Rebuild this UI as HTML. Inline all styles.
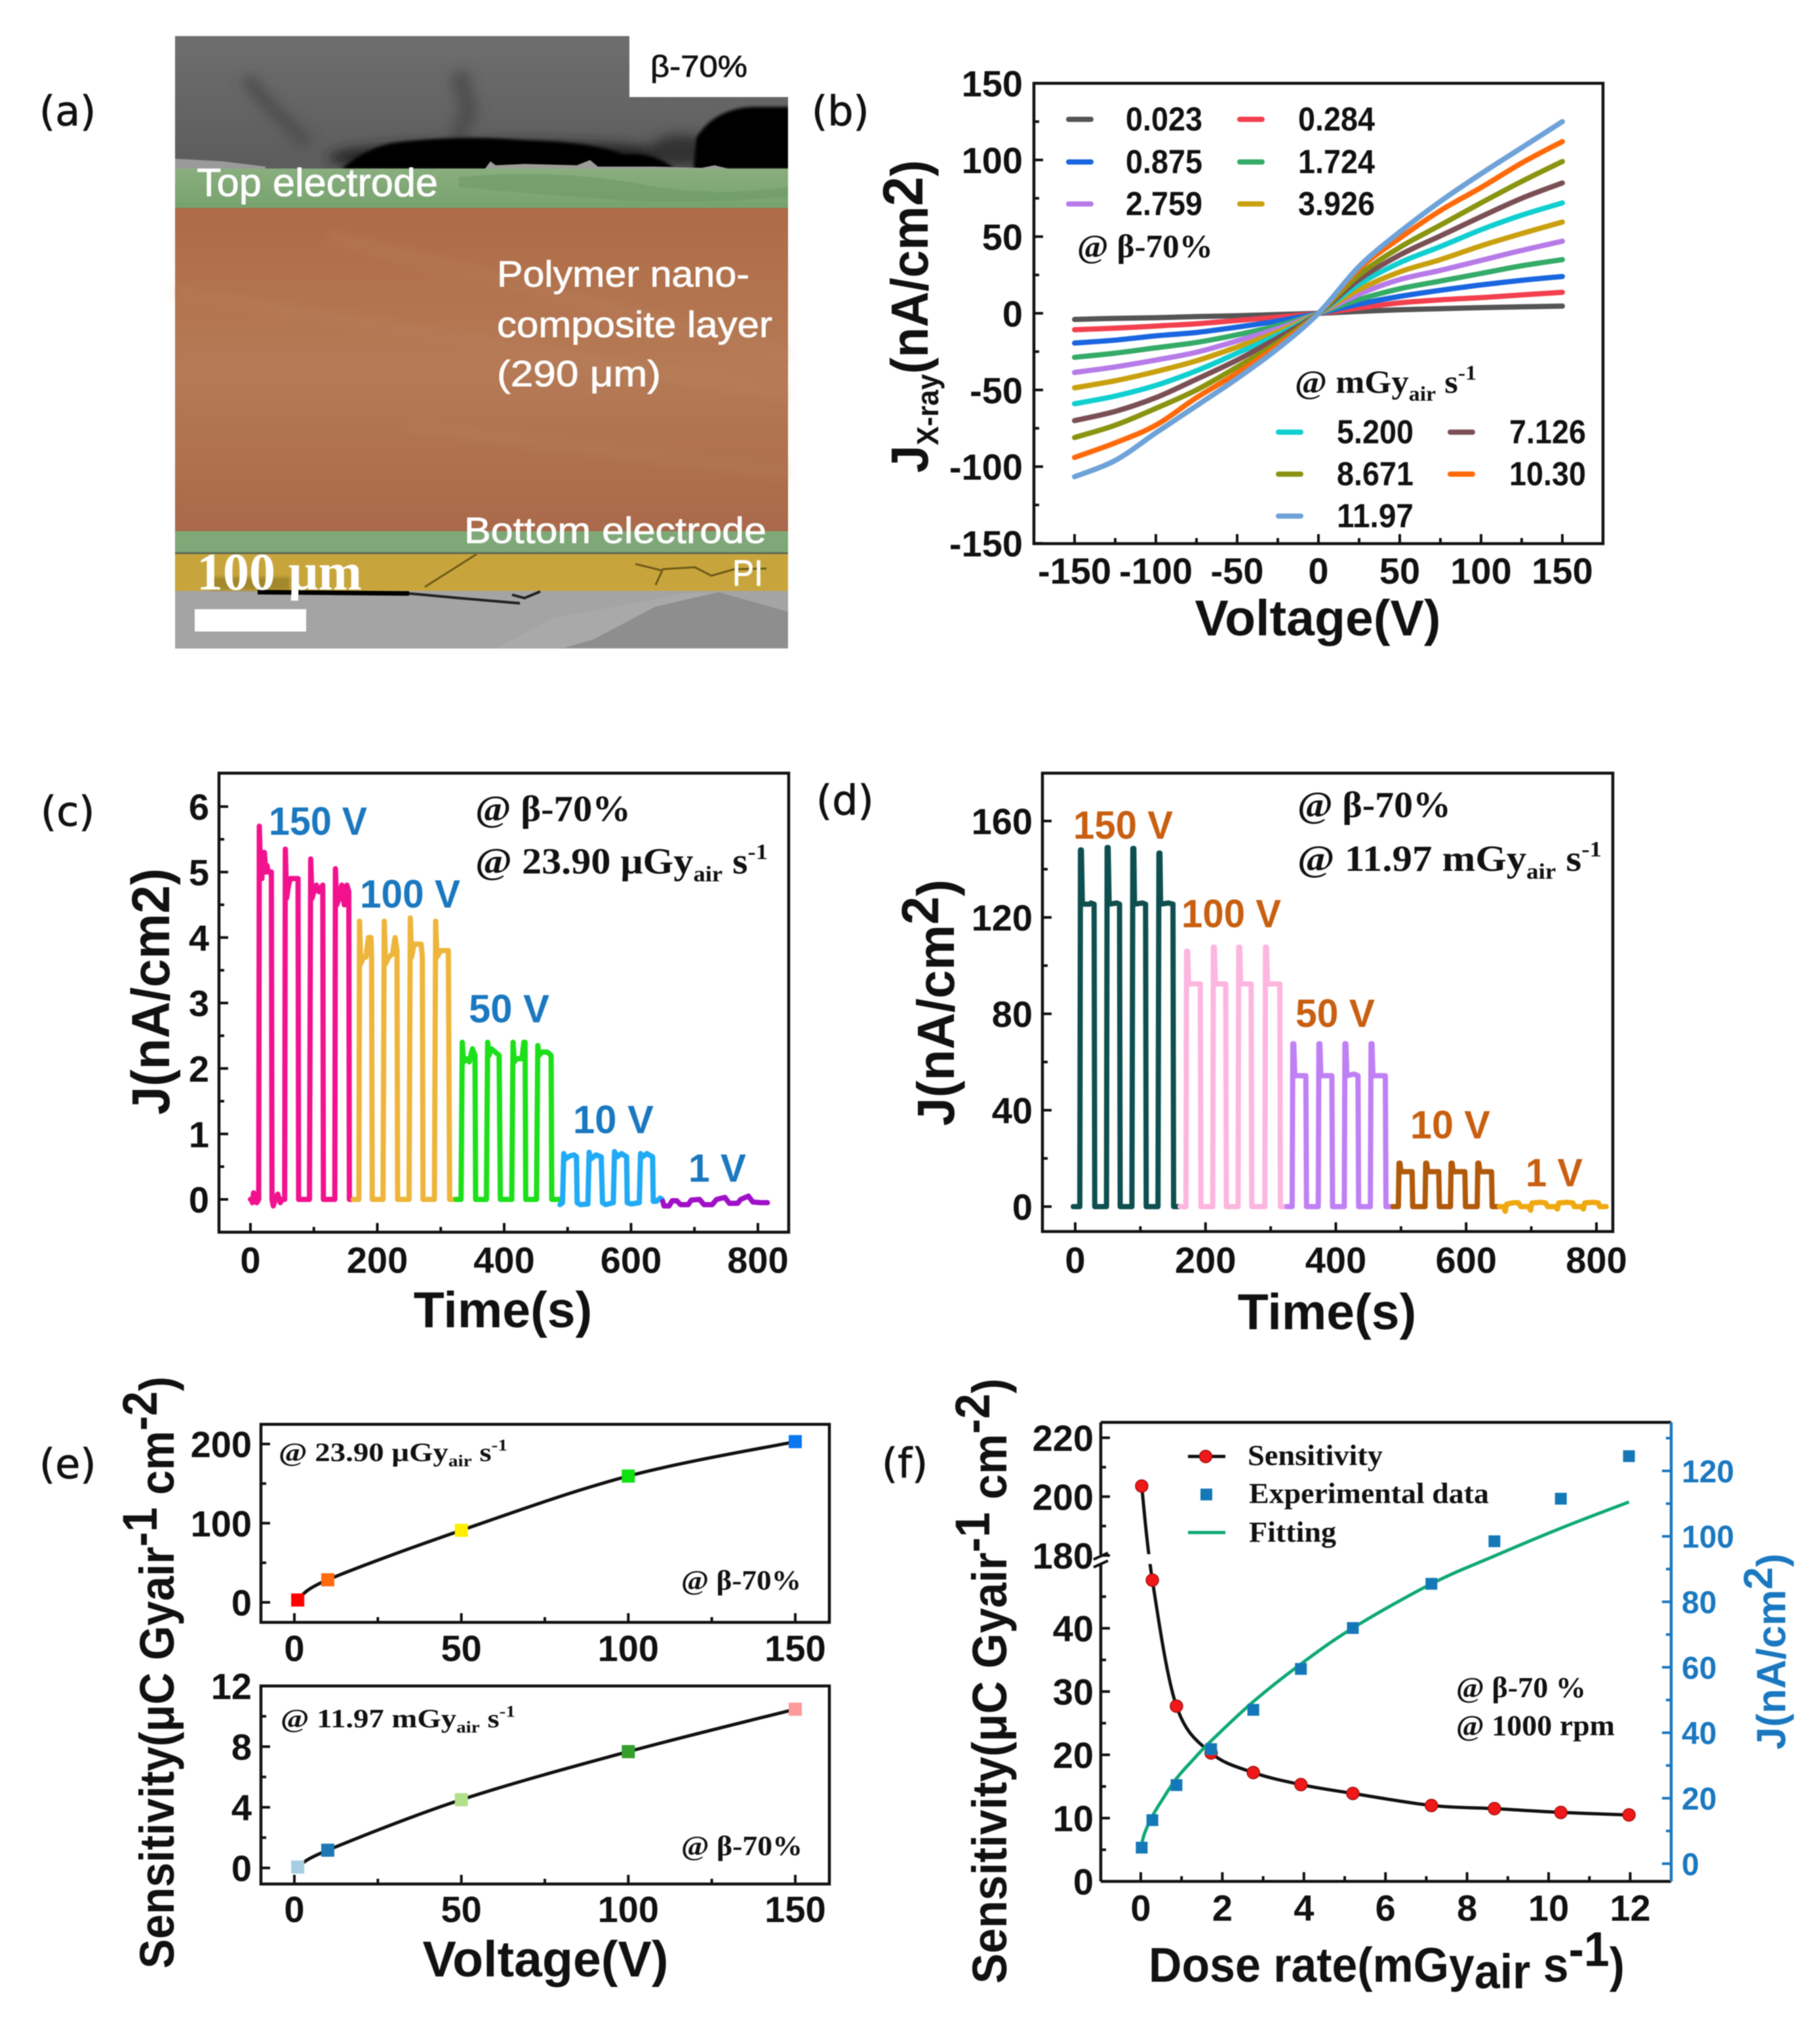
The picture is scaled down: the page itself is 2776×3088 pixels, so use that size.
<!DOCTYPE html>
<html lang="en">
<head>
<meta charset="utf-8">
<title>X-ray detector response figure</title>
<style>
html,body{margin:0;padding:0;background:#fff;}
svg{display:block;filter:blur(0.7px);}
text{font-family:"Liberation Sans",sans-serif;}
.serif{font-family:"Liberation Serif",serif;font-weight:bold;fill:#111;}
.title{font-family:"Liberation Sans",sans-serif;font-weight:bold;fill:#111;}
.tick{font-family:"Liberation Sans",sans-serif;font-weight:bold;fill:#111;}
.plabel{font-family:"DejaVu Sans",sans-serif;fill:#111;font-size:62px;stroke:#111;stroke-width:0.8px;}
.sem{font-family:"Liberation Sans",sans-serif;fill:#fff;stroke:#fff;stroke-width:0.8px;}
</style>
</head>
<body>
<svg id="figure" xmlns="http://www.w3.org/2000/svg" width="2776" height="3088" viewBox="0 0 2776 3088">
<defs>
<linearGradient id="topGrey" x1="0" y1="0" x2="0" y2="1"><stop offset="0" stop-color="#6e6e6e"/><stop offset="0.7" stop-color="#616161"/><stop offset="1" stop-color="#5c5c5c"/></linearGradient>
<linearGradient id="orangeFill" x1="0" y1="0" x2="0" y2="1"><stop offset="0" stop-color="#ad6b45"/><stop offset="0.5" stop-color="#b57a56"/><stop offset="1" stop-color="#a9694a"/></linearGradient>
<linearGradient id="greenFill" x1="0" y1="0" x2="0" y2="1"><stop offset="0" stop-color="#8aae7e"/><stop offset="1" stop-color="#76a26e"/></linearGradient>
<filter id="softA" x="-20%" y="-20%" width="140%" height="140%"><feGaussianBlur stdDeviation="9"/></filter>
<filter id="softB" x="-20%" y="-20%" width="140%" height="140%"><feGaussianBlur stdDeviation="2.5"/></filter>
</defs>

<!-- Panel (a) -->
<g>
<text class="plabel" x="60" y="191">(a)</text>
<rect x="267" y="55" width="935" height="934" fill="#a4a4a4"/>
<rect x="267" y="55" width="935" height="204" fill="url(#topGrey)"/>
<g filter="url(#softA)">
<path d="M375 120 L420 170 L470 220" stroke="#505050" stroke-width="22" fill="none"/>
<path d="M700 110 L715 170 L690 230" stroke="#505050" stroke-width="28" fill="none"/>
<ellipse cx="780" cy="240" rx="280" ry="24" fill="#222"/>
<ellipse cx="1040" cy="230" rx="50" ry="24" fill="#333"/>
</g>
<g filter="url(#softB)">
<path d="M520 258 Q560 225 600 218 Q700 205 800 214 Q900 216 950 235 Q1000 232 1030 258 Z" fill="#000"/>
<path d="M1058 258 L1062 210 Q1090 165 1150 163 L1204 163 V258 Z" fill="#000"/>
</g>
<path d="M267 242 L340 246 L405 254 L405 258 L267 258 Z" fill="#9a9a9a"/>
<path d="M740 257 L748 246 L756 252 L800 250 L880 252 L900 244 L912 254 L1000 254 L1070 256 L1090 252 L1110 257 Z" fill="#9c9c98"/>
<rect x="960" y="40" width="260" height="108" fill="#fff"/>
<rect x="1202" y="140" width="30" height="125" fill="#fff"/>
<rect x="267" y="257" width="935" height="60" fill="url(#greenFill)"/>
<path d="M700 270 Q850 255 1000 285 Q1100 300 1202 285 L1202 300 Q1050 312 950 305 Q800 295 700 285 Z" fill="#6e9a66" opacity="0.6"/>
<rect x="267" y="317" width="935" height="493" fill="url(#orangeFill)"/>
<path d="M267 445 L1202 600 M500 360 L1202 540 M620 650 L1202 720" stroke="#c08a66" stroke-width="16" opacity="0.25" fill="none" filter="url(#softA)"/>
<rect x="267" y="810" width="935" height="34" fill="#7fa878"/>
<rect x="267" y="842" width="935" height="3" fill="#5f6a55"/>
<rect x="267" y="845" width="935" height="56" fill="#c8a53c"/>
<rect x="320" y="880" width="122" height="20" fill="#8a7420" opacity="0.6" filter="url(#softB)"/>
<path d="M727 845 L648 895 M969 860 L1010 870 L1000 892 M1010 868 L1060 865 L1085 878 L1120 868 L1169 867" stroke="#6e5a18" stroke-width="3" fill="none"/>
<polygon points="757,988 842,943 993,923 1096,903 1202,933 1202,988" fill="#8e8e8e"/>
<polygon points="842,943 993,915 1040,905 1096,903 1000,925 905,975 860,988 757,988" fill="#a9a9a9"/>
<path d="M393 903 L624 905" stroke="#000" stroke-width="7" fill="none"/>
<path d="M624 905 L700 912 L793 920 M781 907 L800 912 L824 902" stroke="#222" stroke-width="4" fill="none"/>
<rect x="297" y="929" width="170" height="34" fill="#fff"/>
<text class="sem" x="300" y="299" font-size="60" textLength="368" lengthAdjust="spacingAndGlyphs">Top electrode</text>
<text class="sem" x="758" y="437" font-size="56" textLength="385" lengthAdjust="spacingAndGlyphs">Polymer nano-</text>
<text class="sem" x="758" y="514" font-size="56" textLength="420" lengthAdjust="spacingAndGlyphs">composite layer</text>
<text class="sem" x="758" y="589" font-size="56" textLength="250" lengthAdjust="spacingAndGlyphs">(290 μm)</text>
<text class="sem" x="708" y="828" font-size="56" textLength="461" lengthAdjust="spacingAndGlyphs">Bottom electrode</text>
<text class="sem" x="1117" y="893" font-size="56" textLength="47" lengthAdjust="spacingAndGlyphs">PI</text>
<text class="serif" x="300" y="899" font-size="80" style="fill:#fff" textLength="252" lengthAdjust="spacingAndGlyphs">100 μm</text>
<text x="992" y="117" font-size="46" fill="#111" stroke="#111" stroke-width="0.8" textLength="148" lengthAdjust="spacingAndGlyphs">β-70%</text>
</g>

<!-- Panel (b) -->
<g id="panelB">
<text class="plabel" x="1238" y="191">(b)</text>
<g id="bCurves"></g>
<rect x="1577" y="127" width="868" height="702" fill="none" stroke="#111" stroke-width="4.5"/>
<g stroke-width="8" stroke-linecap="round">
<line x1="1630" x2="1664" y1="182" y2="182" stroke="#555555"/>
<line x1="1891" x2="1925" y1="182" y2="182" stroke="#f2404e"/>
<line x1="1630" x2="1664" y1="247" y2="247" stroke="#1a66e0"/>
<line x1="1891" x2="1925" y1="247" y2="247" stroke="#35ab68"/>
<line x1="1630" x2="1664" y1="311" y2="311" stroke="#b77be8"/>
<line x1="1891" x2="1925" y1="311" y2="311" stroke="#c9a00e"/>
<line x1="1950" x2="1984" y1="659" y2="659" stroke="#10cfd0"/>
<line x1="2212" x2="2246" y1="659" y2="659" stroke="#7a5055"/>
<line x1="1950" x2="1984" y1="723" y2="723" stroke="#8a9410"/>
<line x1="2212" x2="2246" y1="723" y2="723" stroke="#ff6a0a"/>
<line x1="1950" x2="1984" y1="787" y2="787" stroke="#6ea2d8"/>
</g>
<g class="serif" font-size="51">
<text x="1717" y="199" textLength="117" lengthAdjust="spacingAndGlyphs">0.023</text>
<text x="1980" y="199" textLength="117" lengthAdjust="spacingAndGlyphs">0.284</text>
<text x="1717" y="264" textLength="117" lengthAdjust="spacingAndGlyphs">0.875</text>
<text x="1980" y="264" textLength="117" lengthAdjust="spacingAndGlyphs">1.724</text>
<text x="1717" y="328" textLength="117" lengthAdjust="spacingAndGlyphs">2.759</text>
<text x="1980" y="328" textLength="117" lengthAdjust="spacingAndGlyphs">3.926</text>
<text x="2039" y="676" textLength="117" lengthAdjust="spacingAndGlyphs">5.200</text>
<text x="2302" y="676" textLength="117" lengthAdjust="spacingAndGlyphs">7.126</text>
<text x="2039" y="740" textLength="117" lengthAdjust="spacingAndGlyphs">8.671</text>
<text x="2302" y="740" textLength="117" lengthAdjust="spacingAndGlyphs">10.30</text>
<text x="2039" y="804" textLength="117" lengthAdjust="spacingAndGlyphs">11.97</text>
</g>
<text class="serif" x="1643" y="392" font-size="50" textLength="207" lengthAdjust="spacingAndGlyphs">@ β-70%</text>
<text class="serif" x="1975" y="599" font-size="50" textLength="277" lengthAdjust="spacingAndGlyphs">@ mGy<tspan font-size="32" dy="12">air</tspan><tspan dy="-12"> s</tspan><tspan font-size="32" dy="-20">-1</tspan></text>
<text class="title" transform="translate(1415,721) rotate(-90)" font-size="80" textLength="477" lengthAdjust="spacingAndGlyphs">J<tspan font-size="46" dy="16">X-ray</tspan><tspan dy="-16">(nA/cm</tspan><tspan font-size="86" dy="-8">2</tspan><tspan dy="8">)</tspan></text>
<text class="title" x="2010" y="969" font-size="77" text-anchor="middle">Voltage(V)</text>
</g>

<!-- Panel (c) -->
<g id="panelC">
<text class="plabel" x="62" y="1259">(c)</text>
<g id="cTrace"></g>
<rect x="334" y="1179" width="869" height="700" fill="none" stroke="#111" stroke-width="4.5"/>
<g class="serif" font-size="60" style="fill:#1a78c0">
<text x="410" y="1273" textLength="150" lengthAdjust="spacingAndGlyphs">150 V</text>
<text x="549" y="1384" textLength="153" lengthAdjust="spacingAndGlyphs">100 V</text>
<text x="715" y="1559" textLength="123" lengthAdjust="spacingAndGlyphs">50 V</text>
<text x="874" y="1728" textLength="123" lengthAdjust="spacingAndGlyphs">10 V</text>
<text x="1050" y="1802" textLength="88" lengthAdjust="spacingAndGlyphs">1 V</text>
</g>
<text class="serif" x="725" y="1252" font-size="56" textLength="237" lengthAdjust="spacingAndGlyphs">@ β-70%</text>
<text class="serif" x="725" y="1332" font-size="56" textLength="446" lengthAdjust="spacingAndGlyphs">@ 23.90 μGy<tspan font-size="34" dy="12">air</tspan><tspan dy="-12"> s</tspan><tspan font-size="34" dy="-22">-1</tspan></text>
<text class="title" transform="translate(258,1700) rotate(-90)" font-size="82" textLength="376" lengthAdjust="spacingAndGlyphs">J(nA/cm2)</text>
<text class="title" x="767" y="2024" font-size="77" text-anchor="middle">Time(s)</text>
</g>

<!-- Panel (d) -->
<g id="panelD">
<text class="plabel" x="1245" y="1242">(d)</text>
<g id="dTrace"></g>
<rect x="1590" y="1179" width="870" height="699" fill="none" stroke="#111" stroke-width="4.5"/>
<g class="serif" font-size="60" style="fill:#c85f10">
<text x="1637" y="1279" textLength="152" lengthAdjust="spacingAndGlyphs">150 V</text>
<text x="1802" y="1414" textLength="152" lengthAdjust="spacingAndGlyphs">100 V</text>
<text x="1976" y="1566" textLength="121" lengthAdjust="spacingAndGlyphs">50 V</text>
<text x="2151" y="1736" textLength="122" lengthAdjust="spacingAndGlyphs">10 V</text>
<text x="2327" y="1809" textLength="87" lengthAdjust="spacingAndGlyphs">1 V</text>
</g>
<text class="serif" x="1979" y="1246" font-size="56" textLength="234" lengthAdjust="spacingAndGlyphs">@ β-70%</text>
<text class="serif" x="1979" y="1328" font-size="56" textLength="464" lengthAdjust="spacingAndGlyphs">@ 11.97 mGy<tspan font-size="34" dy="12">air</tspan><tspan dy="-12"> s</tspan><tspan font-size="34" dy="-22">-1</tspan></text>
<text class="title" transform="translate(1455,1717) rotate(-90)" font-size="80" textLength="376" lengthAdjust="spacingAndGlyphs">J(nA/cm<tspan dy="-24">2</tspan><tspan dy="24">)</tspan></text>
<text class="title" x="2024" y="2027" font-size="77" text-anchor="middle">Time(s)</text>
</g>

<!-- Panel (e) -->
<g id="panelE">
<text class="plabel" x="60" y="2254">(e)</text>
<g id="eMarks"></g>
<rect x="398" y="2172" width="867" height="302" fill="none" stroke="#111" stroke-width="4.5"/>
<rect x="398" y="2571" width="867" height="302" fill="none" stroke="#111" stroke-width="4.5"/>
<text class="serif" x="425" y="2228" font-size="40" textLength="349" lengthAdjust="spacingAndGlyphs">@ 23.90 μGy<tspan font-size="25" dy="8">air</tspan><tspan dy="-8"> s</tspan><tspan font-size="25" dy="-16">-1</tspan></text>
<text class="serif" x="1039" y="2424" font-size="42" textLength="183" lengthAdjust="spacingAndGlyphs">@ β-70%</text>
<text class="serif" x="428" y="2634" font-size="40" textLength="358" lengthAdjust="spacingAndGlyphs">@ 11.97 mGy<tspan font-size="25" dy="8">air</tspan><tspan dy="-8"> s</tspan><tspan font-size="25" dy="-16">-1</tspan></text>
<text class="serif" x="1039" y="2829" font-size="42" textLength="185" lengthAdjust="spacingAndGlyphs">@ β-70%</text>
<text class="title" transform="translate(265,3002) rotate(-90)" font-size="74" textLength="903" lengthAdjust="spacingAndGlyphs">Sensitivity(μC Gyair<tspan dy="-26">-1</tspan><tspan dy="26"> cm</tspan><tspan dy="-26">-2</tspan><tspan dy="26">)</tspan></text>
<text class="title" x="832" y="3014" font-size="77" text-anchor="middle">Voltage(V)</text>
</g>

<!-- Panel (f) -->
<g id="panelF">
<text class="plabel" x="1345" y="2253">(f)</text>
<g id="fMarks"></g>
<line x1="1679" x2="2549" y1="2169" y2="2169" stroke="#111" stroke-width="4.5"/>
<line x1="1679" x2="2549" y1="2869" y2="2869" stroke="#111" stroke-width="4.5"/>
<path d="M1679 2169 V2371 M1679 2385 V2869" stroke="#111" stroke-width="4.5" fill="none"/>
<path d="M1668 2378 L1690 2368 M1668 2390 L1690 2380" stroke="#111" stroke-width="4" fill="none"/>
<line x1="2549" x2="2549" y1="2169" y2="2869" stroke="#1a78c0" stroke-width="4.5"/>
<g>
<line x1="1812" x2="1869" y1="2221" y2="2221" stroke="#111" stroke-width="5"/>
<circle cx="1839" cy="2221" r="9.5" fill="#f01818" stroke="#a01010" stroke-width="1.5"/>
<rect x="1831" y="2270" width="18" height="18" fill="#1478b8"/>
<line x1="1812" x2="1869" y1="2337" y2="2337" stroke="#0fa878" stroke-width="5"/>
<text class="serif" x="1903" y="2234" font-size="44" textLength="206" lengthAdjust="spacingAndGlyphs">Sensitivity</text>
<text class="serif" x="1905" y="2292" font-size="44" textLength="366" lengthAdjust="spacingAndGlyphs">Experimental data</text>
<text class="serif" x="1905" y="2351" font-size="44" textLength="133" lengthAdjust="spacingAndGlyphs">Fitting</text>
</g>
<text class="serif" x="2221" y="2588" font-size="44" textLength="198" lengthAdjust="spacingAndGlyphs">@ β-70 %</text>
<text class="serif" x="2221" y="2646" font-size="44" textLength="242" lengthAdjust="spacingAndGlyphs">@ 1000 rpm</text>
<text class="title" transform="translate(1535,3025) rotate(-90)" font-size="74" textLength="923" lengthAdjust="spacingAndGlyphs">Sensitivity(μC Gyair<tspan dy="-26">-1</tspan><tspan dy="26"> cm</tspan><tspan dy="-26">-2</tspan><tspan dy="26">)</tspan></text>
<text class="title" x="1752" y="3022" font-size="74" textLength="726" lengthAdjust="spacingAndGlyphs">Dose rate(mGy<tspan dy="10">air</tspan><tspan dy="-10"> s</tspan><tspan dy="-24">-1</tspan><tspan dy="24">)</tspan></text>
<text class="title" transform="translate(2723,2668) rotate(-90)" font-size="62" style="fill:#1a78c0" textLength="299" lengthAdjust="spacingAndGlyphs">J(nA/cm<tspan dy="-20">2</tspan><tspan dy="20">)</tspan></text>
</g>
</svg>

<script>
// ---------- Panel (b) data ----------
const bVoltage = [-150,-125,-100,-75,-50,-25,0,25,50,75,100,125,150];
const bDoseLabels = ['0.023','0.284','0.875','1.724','2.759','3.926','5.200','7.126','8.671','10.30','11.97'];
const bJ0023 = [-4,-3.3,-2.9,-2.1,-1.6,-0.8,0,1.2,2.3,3,3.7,4.2,4.7];
const bJ0284 = [-10.7,-9.7,-8.3,-6.8,-4.7,-2.5,0,3.5,6.8,8.8,10.2,12,13.7];
const bJ0875 = [-19.4,-17.5,-14.7,-12.5,-9,-5,0,6,11,15,18.5,21.5,24];
const bJ1724 = [-28.7,-26,-22.5,-19,-14,-8,0,9,16,21,26,31,35];
const bJ2759 = [-38.6,-35,-30.5,-25.4,-18,-10,0,12.5,22,28,34.5,41,47];
const bJ3926 = [-48.6,-44,-38,-31,-22,-12,0,15.5,27,35,44,52,59.5];
const bJ5200 = [-59,-54,-47,-37.5,-26,-14,0,19,33,43.5,54.5,64,72];
const bJ7126 = [-70,-64,-55,-43,-30.5,-16,0,22,38,50.5,63,75,85];
const bJ8671 = [-81,-73,-62,-50,-35,-19,0,25,43,57.5,72,86,99];
const bJ1030 = [-94,-84.5,-73,-55,-39,-21,0,29,49,67,82,98,112];
const bJ1197 = [-106.6,-96,-78,-60.3,-42.5,-23,0,30.5,53,73,91,108,125];
const bXTicks = [-150,-100,-50,0,50,100,150];
const bXMinor = [-125,-75,-25,25,75,125];
const bYTicks = [-150,-100,-50,0,50,100,150];
const bYMinor = [-125,-75,-25,25,75,125];

// ---------- Panel (c) data: [time s, J nA/cm2] ----------
const c150V = [[0,0],[2,0],[3,-.05],[5,.1],[7,.05],[9,.05],[10,-.05],[13,0],[14,5.7],[16,5.0],[18,4.9],[20,5.3],[22,5.3],[24,5.0],[26,5.1],[28,5.0],[33,5.0],[34,0],[36,-.1],[39,0],[43,.08],[47,-.05],[50,0],[54,0],[55,5.35],[57,4.6],[60,4.8],[63,4.9],[66,4.9],[70,4.9],[75,4.9],[76,0],[80,0],[93,0],[95,5.2],[97,4.6],[100,4.7],[104,4.8],[108,4.7],[114,4.8],[115,0],[120,0],[133,0],[134,5.05],[136,4.5],[140,4.6],[144,4.8],[148,4.5],[152,4.8],[155,4.7],[156,0],[160,0]];
const c100V = [[162,0],[171,0],[172,4.25],[174,3.6],[178,3.7],[182,3.7],[186,4.0],[190,4.0],[191,3.7],[192,0],[196,0],[209,0],[211,4.25],[213,3.6],[218,3.7],[224,3.75],[228,4.0],[231,3.8],[232,0],[236,0],[250,0],[252,4.3],[254,3.7],[258,3.9],[264,3.9],[269,3.9],[271,3.7],[272,0],[276,0],[290,0],[292,4.25],[294,3.7],[300,3.8],[306,3.8],[312,3.8],[314,0],[323,0]];
const c50V = [[324,0],[332,0],[334,2.4],[336,2.1],[340,2.15],[345,2.1],[350,2.3],[354,2.2],[355,0],[359,0],[372,0],[374,2.4],[376,2.2],[380,2.3],[386,2.25],[392,2.2],[394,0],[398,0],[412,0],[414,2.4],[416,2.1],[420,2.15],[428,2.15],[431,2.4],[433,2.4],[434,0],[438,0],[451,0],[453,2.35],[455,2.2],[460,2.25],[468,2.25],[474,2.2],[475,0],[489,0]];
const c10V = [[488,-.08],[492,-.05],[494,.7],[497,.62],[503,.66],[510,.68],[514,.65],[515,-.05],[520,-.08],[532,-.07],[534,.72],[537,.62],[545,.68],[553,.65],[555,-.05],[560,-.08],[572,-.05],[574,.73],[578,.65],[585,.7],[593,.65],[594,-.05],[600,-.07],[613,-.05],[615,.7],[618,.65],[625,.7],[634,.65],[635,-.03],[640,-.03],[646,.02],[649,0]];
const c1V = [[650,-.03],[652,-.1],[660,-.1],[665,-.02],[672,-.02],[678,-.08],[690,-.08],[695,-.01],[708,0],[715,-.08],[728,-.08],[735,0],[748,.03],[755,-.06],[768,-.06],[773,0],[785,.05],[792,-.04],[805,-.05],[815,-.05]];
const cXTicks = [0,200,400,600,800];
const cXMinor = [100,300,500,700];
const cYTicks = [0,1,2,3,4,5,6];
const cYMinor = [.5,1.5,2.5,3.5,4.5,5.5];

// ---------- Panel (d) data: [time s, J nA/cm2] ----------
const d150V = [[-3,0],[7,0],[8,148],[9.5,148],[11,125.5],[22,125.5],[24,126],[29,125.5],[30,0],[34,0],[48,0],[49,149],[50.5,149],[52,125.5],[64,126],[68,125.5],[69,0],[73,0],[87,0],[88.5,148.6],[90,148.6],[91,125.5],[103,126],[108,125.5],[109,0],[113,0],[127,0],[128.5,146.7],[130,146.7],[131,125.5],[143,126],[150,125.5],[151,0],[160,0]];
const d100V = [[161,0],[170,0],[171,106],[172.5,106],[174,92.4],[187,92.4],[192,92.4],[193,0],[197,0],[211,0],[212,107.7],[213.5,107.7],[215,92.4],[226,92.4],[231,92.4],[232,0],[236,0],[250,0],[251,107.7],[252.5,107.7],[254,92.4],[265,92.4],[270,92.4],[271,0],[275,0],[291,0],[292,107.7],[293.5,107.7],[295,92.4],[308,92.4],[314,92.4],[315,0],[324,0]];
const d50V = [[325,0],[333,0],[334,67.6],[335.5,67.6],[337,54.3],[348,54.3],[354,54.3],[355,0],[359,0],[373,0],[374,67.6],[375.5,67.6],[377,54.3],[388,54.3],[394,54.3],[395,0],[399,0],[413,0],[414,67.6],[415.5,67.6],[417,54.3],[428,55],[434,54.3],[435,0],[439,0],[453,0],[454,67.6],[455.5,67.6],[457,54.3],[470,54.3],[476,54.3],[477,0],[487,0]];
const d10V = [[488,0],[496,0],[497,18],[498.5,18],[500,14.5],[512,14.5],[517,14.5],[518,0],[522,0],[537,0],[538,18],[539.5,18],[541,14.5],[553,14.5],[558,14.5],[559,0],[563,0],[576,0],[577,18],[578.5,18],[580,14.5],[593,14.5],[598,14.5],[599,0],[603,0],[617,0],[618,18],[619.5,18],[621,14.5],[634,14.5],[639,14.5],[640,0],[650,0]];
const d1V = [[651,0],[656,0],[658,-.5],[660,-2],[662,1],[672,1.6],[680,1.6],[684,0],[696,0],[699,-1.5],[701,1.5],[715,1.8],[722,1.5],[725,0],[737,0],[740,-1],[742,1.5],[755,1.8],[764,1.5],[766,0],[777,0],[780,-1],[782,1.5],[795,1.8],[803,1.5],[805,0],[815,0]];
const dXTicks = [0,200,400,600,800];
const dXMinor = [100,300,500,700];
const dYTicks = [0,40,80,120,160];
const dYMinor = [20,60,100,140];

// ---------- Panel (e) data ----------
const eVoltage = [1,10,50,100,150];
const eTopSensitivity = [3,28.5,91,159.5,203];
const eBottomSensitivity = [0.06,1.17,4.5,7.67,10.47];
const eXTicks = [0,50,100,150];
const eXMinor = [25,75,125];
const eTopYTicks = [0,100,200];
const eTopYMinor = [50,150];
const eBottomYTicks = [0,4,8,12];
const eBottomYMinor = [2,6,10];

// ---------- Panel (f) data ----------
const fDose = [0.023,0.284,0.875,1.724,2.759,3.926,5.2,7.126,8.671,10.3,11.97];
const fSensitivity = [203.6,47.6,27.7,20.3,17.2,15.3,13.9,12,11.5,10.9,10.5];
const fExperimental = [4.9,13.3,24,35,47,59.5,72,85.5,98.5,111.5,124.5];
const fFitDose = [0.023,0.1,0.284,0.5,0.875,1.3,1.724,2.759,3.926,5.2,7.126,8.671,10.3,11.97];
const fFitJ = [6,9.5,14.5,19,26,32,37.5,49.5,61,72,85.5,94,102.5,110.5];
const fXTicks = [0,2,4,6,8,10,12];
const fXMinor = [1,3,5,7,9,11];
const fLowerTicks = [0,10,20,30,40];
const fLowerMinor = [5,15,25,35,45];
const fUpperTicks = [180,200,220];
const fUpperMinor = [190,210];
const fRightTicks = [0,20,40,60,80,100,120];
const fRightMinor = [10,30,50,70,90,110,130];

// ---------- Helpers ----------
const SVGNS = 'http://www.w3.org/2000/svg';
function mk(tag, attrs, parent) {
  const el = document.createElementNS(SVGNS, tag);
  for (const k in attrs) el.setAttribute(k, attrs[k]);
  parent.appendChild(el);
  return el;
}
function linear(d0, d1, p0, p1) {
  return v => p0 + (v - d0) * (p1 - p0) / (d1 - d0);
}
function smoothPath(pts) {
  let d = 'M' + pts[0][0].toFixed(1) + ' ' + pts[0][1].toFixed(1);
  for (let i = 0; i < pts.length - 1; i++) {
    const p0 = pts[Math.max(i - 1, 0)], p1 = pts[i], p2 = pts[i + 1], p3 = pts[Math.min(i + 2, pts.length - 1)];
    const c1x = p1[0] + (p2[0] - p0[0]) / 6, c1y = p1[1] + (p2[1] - p0[1]) / 6;
    const c2x = p2[0] - (p3[0] - p1[0]) / 6, c2y = p2[1] - (p3[1] - p1[1]) / 6;
    d += 'C' + c1x.toFixed(1) + ' ' + c1y.toFixed(1) + ' ' + c2x.toFixed(1) + ' ' + c2y.toFixed(1) + ' ' + p2[0].toFixed(1) + ' ' + p2[1].toFixed(1);
  }
  return d;
}
function straightPath(pts) {
  return pts.map((p, i) => (i ? 'L' : 'M') + p[0].toFixed(1) + ' ' + p[1].toFixed(1)).join('');
}
// Draw ticks and labels for one axis. side: bottom, left or right. spine: pixel position of the axis line.
function drawAxis(parent, name, side, spine, pos, ticks, minors, labelAt, size, color) {
  const sign = side === 'bottom' ? -1 : (side === 'left' ? 1 : -1);
  const draw = (v, len, kind) => {
    const p = pos(v);
    const coords = side === 'bottom'
      ? {x1: p, x2: p, y1: spine, y2: spine + sign * len}
      : {x1: spine, x2: spine + sign * len, y1: p, y2: p};
    const ln = mk('line', Object.assign({stroke: color, 'stroke-width': 4}, coords), parent);
    
    
  };
  minors.forEach(v => draw(v, 8, 'minor'));
  ticks.forEach(v => {
    draw(v, 14, 'major');
    const p = pos(v);
    const attrs = side === 'bottom'
      ? {x: p, y: labelAt, 'text-anchor': 'middle'}
      : {x: labelAt, y: p + size * 0.36, 'text-anchor': side === 'left' ? 'end' : 'start'};
    attrs['font-size'] = size;
    attrs['class'] = 'tick';
    attrs['style'] = 'fill:' + color;
    const t = mk('text', attrs, parent);
    t.textContent = String(v);
    
    
  });
}
function drawSquareMarks(parent, name, xs, ys, xScale, yScale, colors, size) {
  xs.forEach((x, i) => {
    const r = mk('rect', {x: xScale(x) - size / 2, y: yScale(ys[i]) - size / 2, width: size, height: size, fill: Array.isArray(colors) ? colors[i] : colors}, parent);
    
    
  });
}
function drawTrace(parent, name, data, xScale, yScale, color) {
  const p = mk('path', {d: straightPath(data.map(d => [xScale(d[0]), yScale(d[1])])), fill: 'none', stroke: color, 'stroke-width': 8, 'stroke-linejoin': 'round', 'stroke-linecap': 'round'}, parent);
  
  
}

// ---------- Panel (b) ----------
(function () {
  const x = linear(-150, 150, 1639, 2383);
  const y = linear(-150, 150, 828.5, 127);
  const series = [bJ0023, bJ0284, bJ0875, bJ1724, bJ2759, bJ3926, bJ5200, bJ7126, bJ8671, bJ1030, bJ1197];
  const colors = ['#555555','#f2404e','#1a66e0','#35ab68','#b77be8','#c9a00e','#10cfd0','#7a5055','#8a9410','#ff6a0a','#6ea2d8'];
  const g = document.getElementById('bCurves');
  series.forEach((s, i) => {
    const p = mk('path', {d: smoothPath(bVoltage.map((v, j) => [x(v), y(s[j])])), fill: 'none', stroke: colors[i], 'stroke-width': 8, 'stroke-linecap': 'round'}, g);
    
    
  });
  const axes = document.getElementById('panelB');
  drawAxis(axes, 'x-axis-b', 'bottom', 828.5, x, bXTicks, bXMinor, 890, 56, '#111');
  drawAxis(axes, 'y-axis-b', 'left', 1577, y, bYTicks, bYMinor, 1560, 56, '#111');
})();

// ---------- Panel (c) ----------
(function () {
  const x = linear(0, 800, 382, 1156);
  const y = linear(0, 6, 1829, 1230);
  const g = document.getElementById('cTrace');
  drawTrace(g, 'trace-150v-c', c150V, x, y, '#f2128e');
  drawTrace(g, 'trace-100v-c', c100V, x, y, '#eeb53c');
  drawTrace(g, 'trace-50v-c', c50V, x, y, '#1ddf1a');
  drawTrace(g, 'trace-10v-c', c10V, x, y, '#21aaf5');
  drawTrace(g, 'trace-1v-c', c1V, x, y, '#a010c8');
  const axes = document.getElementById('panelC');
  drawAxis(axes, 'x-axis-c', 'bottom', 1879, x, cXTicks, cXMinor, 1941, 56, '#111');
  drawAxis(axes, 'y-axis-c', 'left', 334, y, cYTicks, cYMinor, 319, 56, '#111');
})();

// ---------- Panel (d) ----------
(function () {
  const x = linear(0, 800, 1640, 2435);
  const y = linear(0, 160, 1840, 1252);
  const g = document.getElementById('dTrace');
  drawTrace(g, 'trace-150v-d', d150V, x, y, '#0e4f4f');
  drawTrace(g, 'trace-100v-d', d100V, x, y, '#fdb6e0');
  drawTrace(g, 'trace-50v-d', d50V, x, y, '#c080f5');
  drawTrace(g, 'trace-10v-d', d10V, x, y, '#b05a0a');
  drawTrace(g, 'trace-1v-d', d1V, x, y, '#f0a810');
  const axes = document.getElementById('panelD');
  drawAxis(axes, 'x-axis-d', 'bottom', 1878, x, dXTicks, dXMinor, 1941, 56, '#111');
  drawAxis(axes, 'y-axis-d', 'left', 1590, y, dYTicks, dYMinor, 1575, 56, '#111');
})();

// ---------- Panel (e) ----------
(function () {
  const x = linear(0, 150, 449, 1213);
  const yTop = linear(0, 200, 2443.5, 2202);
  const yBottom = linear(0, 12, 2848.5, 2571);
  const g = document.getElementById('eMarks');
  const topLine = mk('path', {d: smoothPath(eVoltage.map((v, i) => [x(v), yTop(eTopSensitivity[i])])), fill: 'none', stroke: '#111', 'stroke-width': 5}, g);
  
  
  const bottomLine = mk('path', {d: smoothPath(eVoltage.map((v, i) => [x(v), yBottom(eBottomSensitivity[i])])), fill: 'none', stroke: '#111', 'stroke-width': 5}, g);
  
  
  drawSquareMarks(g, 'sensitivity-top', eVoltage, eTopSensitivity, x, yTop, ['#ff0000','#ff6a10','#ffee00','#10e010','#0a78f0'], 20);
  drawSquareMarks(g, 'sensitivity-bottom', eVoltage, eBottomSensitivity, x, yBottom, ['#a6cee3','#1f78b4','#b2df8a','#33a02c','#fb9a99'], 20);
  const axes = document.getElementById('panelE');
  drawAxis(axes, 'x-axis-e-top', 'bottom', 2474, x, eXTicks, eXMinor, 2533, 56, '#111');
  drawAxis(axes, 'y-axis-e-top', 'left', 398, yTop, eTopYTicks, eTopYMinor, 384, 56, '#111');
  drawAxis(axes, 'x-axis-e-bottom', 'bottom', 2873, x, eXTicks, eXMinor, 2931, 56, '#111');
  drawAxis(axes, 'y-axis-e-bottom', 'left', 398, yBottom, eBottomYTicks, eBottomYMinor, 384, 56, '#111');
})();

// ---------- Panel (f) ----------
(function () {
  const x = linear(0, 12, 1740, 2486.5);
  const lower = linear(0, 40, 2869, 2483);
  const upper = linear(180, 220, 2372, 2192.5);
  const y = v => v >= 100 ? upper(v) : lower(v);
  const right = linear(0, 120, 2842, 2243);
  const g = document.getElementById('fMarks');
  const sens = mk('path', {d: smoothPath(fDose.map((d, i) => [x(d), y(fSensitivity[i])])), fill: 'none', stroke: '#111', 'stroke-width': 5}, g);
  
  
  const gap = mk('rect', {x: x(0.02), y: 2370, width: x(0.4) - x(0.02), height: 15, fill: '#fff'}, g);
  
  
  const fit = mk('path', {d: smoothPath(fFitDose.map((d, i) => [x(d), right(fFitJ[i])])), fill: 'none', stroke: '#0fa878', 'stroke-width': 5}, g);
  
  
  fDose.forEach((d, i) => {
    const c = mk('circle', {cx: x(d), cy: y(fSensitivity[i]), r: 9.5, fill: '#f01818', stroke: '#a01010', 'stroke-width': 1.5}, g);
    
    
  });
  drawSquareMarks(g, 'experimental', fDose, fExperimental, x, right, '#1478b8', 18);
  const axes = document.getElementById('panelF');
  drawAxis(axes, 'x-axis-f', 'bottom', 2869, x, fXTicks, fXMinor, 2929, 56, '#111');
  drawAxis(axes, 'y-axis-f-lower', 'left', 1679, lower, fLowerTicks, fLowerMinor, 1668, 56, '#111');
  drawAxis(axes, 'y-axis-f-upper', 'left', 1679, upper, fUpperTicks, fUpperMinor, 1668, 56, '#111');
  drawAxis(axes, 'y-axis-f-right', 'right', 2549, right, fRightTicks, fRightMinor, 2565, 48, '#1a78c0');
})();
</script>
</body>
</html>
